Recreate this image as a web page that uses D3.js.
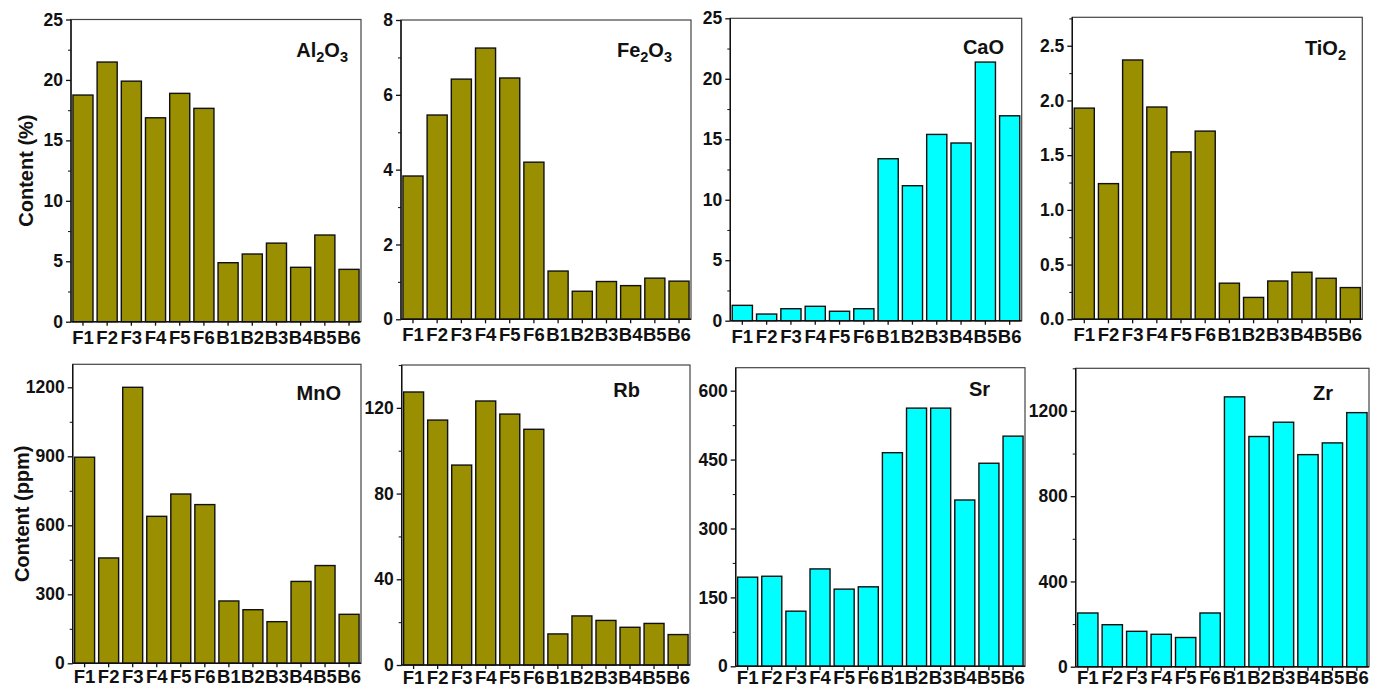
<!DOCTYPE html>
<html>
<head>
<meta charset="utf-8">
<script src="https://cdn.jsdelivr.net/npm/d3@7/dist/d3.min.js"></script>
<style>
  html, body { margin: 0; padding: 0; background: #fff; }
  svg { display: block; font-family: "Liberation Sans", Arial, sans-serif; font-weight: bold; }
</style>
</head>
<body>
<svg id="chart" width="1381" height="691"></svg>
<script>
// Sample identifiers shared by every panel
const samples = ["F1", "F2", "F3", "F4", "F5", "F6", "B1", "B2", "B3", "B4", "B5", "B6"];

// Major oxides (%)
const al2o3 = [18.75, 21.48, 19.9, 16.87, 18.89, 17.65, 4.88, 5.6, 6.5, 4.5, 7.17, 4.33];
const fe2o3 = [3.83, 5.46, 6.42, 7.25, 6.45, 4.2, 1.29, 0.75, 1.01, 0.9, 1.1, 1.02];
const cao   = [1.27, 0.55, 0.99, 1.19, 0.78, 0.99, 13.39, 11.16, 15.4, 14.69, 21.38, 16.94];
const tio2  = [1.93, 1.24, 2.37, 1.94, 1.53, 1.72, 0.33, 0.2, 0.35, 0.43, 0.375, 0.29];

// Minor / trace components (ppm)
const mno = [896, 458, 1200, 639, 736, 690, 271, 233, 181, 356, 425, 213];
const rb  = [127.4, 114.3, 93.3, 123.2, 117.1, 110, 14.5, 22.9, 20.8, 17.6, 19.4, 14.2];
const sr  = [194, 196, 120, 212, 168, 173, 465, 562, 562, 362, 442, 501];
const zr  = [252, 197, 166, 152, 137, 252, 1266, 1080, 1147, 995, 1050, 1192];

// Axis ticks per panel
const ticksAl = [0, 5, 10, 15, 20, 25];
const ticksFe = [0, 2, 4, 6, 8];
const ticksCa = [0, 5, 10, 15, 20, 25];
const ticksTi = [0, 0.5, 1.0, 1.5, 2.0, 2.5];
const ticksMn = [0, 300, 600, 900, 1200];
const ticksRb = [0, 40, 80, 120];
const ticksSr = [0, 150, 300, 450, 600];
const ticksZr = [0, 400, 800, 1200];

const olive = "#998f00";
const cyan = "#00ffff";

// Panel layout: frame box, y-domain, minor tick step, title anchor
const panels = [
  { vals: al2o3, ticks: ticksAl, max: 25,   minor: 2.5,  fmt: d3.format("d"),   fill: olive, title: [["Al",0],["2",1],["O",0],["3",1]],
    x0: 71,     x1: 361,    top: 19.5,  base: 321.7, tx: 348,  ty: 57,  pad: 5, ylabel: "Content (%)", ly: 33 },
  { vals: fe2o3, ticks: ticksFe, max: 8,    minor: 1,    fmt: d3.format("d"),   fill: olive, title: [["Fe",0],["2",1],["O",0],["3",1]],
    x0: 401,    x1: 691,    top: 20,    base: 319.3, tx: 672,  ty: 57,  pad: 5 },
  { vals: cao,   ticks: ticksCa, max: 25,   minor: 2.5,  fmt: d3.format("d"),   fill: cyan,  title: [["CaO",0]],
    x0: 730.3,  x1: 1021.7, top: 18.3,  base: 320.7, tx: 1004, ty: 54,  pad: 5 },
  { vals: tio2,  ticks: ticksTi, max: 2.76, minor: 0.25, fmt: d3.format(".1f"), fill: olive, title: [["TiO",0],["2",1]],
    x0: 1072.3, x1: 1362.3, top: 17.3,  base: 319.3, tx: 1346, ty: 55,  pad: 5 },
  { vals: mno,   ticks: ticksMn, max: 1300, minor: 150,  fmt: d3.format("d"),   fill: olive, title: [["MnO",0]],
    x0: 72.7,   x1: 361,    top: 364.3, base: 663.3, tx: 341,  ty: 400, pad: 3, ylabel: "Content (ppm)", ly: 29 },
  { vals: rb,    ticks: ticksRb, max: 140,  minor: 20,   fmt: d3.format("d"),   fill: olive, title: [["Rb",0]],
    x0: 401.7,  x1: 690,    top: 365,   base: 665,   tx: 640,  ty: 397, pad: 1.5 },
  { vals: sr,    ticks: ticksSr, max: 650,  minor: 75,   fmt: d3.format("d"),   fill: cyan,  title: [["Sr",0]],
    x0: 735.7,  x1: 1025,   top: 367.7, base: 666.3, tx: 990,  ty: 396, pad: 1 },
  { vals: zr,    ticks: ticksZr, max: 1400, minor: 200,  fmt: d3.format("d"),   fill: cyan,  title: [["Zr",0]],
    x0: 1075.7, x1: 1369,   top: 368.3, base: 666.7, tx: 1333, ty: 400, pad: 0.5 }
];

const svg = d3.select("#chart");
const fontFam = "'Liberation Sans', Arial, sans-serif";

panels.forEach(p => {
  const g = svg.append("g");

  const x = d3.scaleBand().domain(samples).range([p.x0, p.x1])
    .paddingInner(0.17).paddingOuter(0.08);
  const y = d3.scaleLinear().domain([0, p.max]).range([p.base, p.top]);

  // Bars
  g.selectAll("rect.bar").data(p.vals).join("rect")
    .attr("class", "bar")
    .attr("x", (d, i) => x(samples[i]))
    .attr("width", x.bandwidth())
    .attr("y", d => y(d))
    .attr("height", d => y(0) - y(d))
    .attr("fill", p.fill)
    .attr("stroke", "#111")
    .attr("stroke-width", 1.4);

  // Frame around the plot area
  g.append("rect")
    .attr("x", p.x0).attr("y", p.top)
    .attr("width", p.x1 - p.x0).attr("height", p.base - p.top)
    .attr("fill", "none").attr("stroke", "#444").attr("stroke-width", 1.2);

  // Minor y ticks
  const minorVals = d3.range(0, p.max + 1e-9, p.minor).filter(v => !p.ticks.some(t => Math.abs(t - v) < 1e-9));
  g.append("g")
    .attr("transform", `translate(${p.x0},0)`)
    .call(d3.axisLeft(y).tickValues(minorVals).tickSize(3).tickFormat(""))
    .call(a => a.select(".domain").remove())
    .call(a => a.selectAll("line").attr("stroke", "#222").attr("stroke-width", 1.1));

  // Major y axis
  g.append("g")
    .attr("transform", `translate(${p.x0},0)`)
    .call(d3.axisLeft(y).tickValues(p.ticks).tickSize(5).tickPadding(3).tickFormat(p.fmt))
    .call(a => a.select(".domain").attr("stroke", "#111").attr("stroke-width", 1.4).attr("d", `M0,${p.base}V${p.top}`))
    .call(a => a.selectAll("line").attr("stroke", "#111").attr("stroke-width", 1.3))
    .call(a => a.selectAll("text").attr("fill", "#111").style("font-size", "17.5px").style("font-weight", "bold")
      .style("font-family", fontFam));

  // x axis
  g.append("g")
    .attr("transform", `translate(0,${p.base})`)
    .call(d3.axisBottom(x).tickSize(4).tickPadding(p.pad))
    .call(a => a.select(".domain").attr("stroke", "#111").attr("stroke-width", 1.4).attr("d", `M${p.x0},0H${p.x1}`))
    .call(a => a.selectAll("line").attr("stroke", "#111").attr("stroke-width", 1.3))
    .call(a => a.selectAll("text").attr("fill", "#111").style("font-size", "18.5px").style("font-weight", "bold")
      .style("font-family", fontFam));

  // Panel title with subscripts
  const t = g.append("text")
    .attr("x", p.tx).attr("y", p.ty)
    .attr("text-anchor", "end")
    .attr("fill", "#111")
    .style("font-size", "20px");
  p.title.forEach(([s, sub]) => {
    t.append("tspan").text(s)
      .attr("baseline-shift", sub ? "-30%" : null)
      .style("font-size", sub ? "14.5px" : null);
  });

  // Shared y-axis titles
  if (p.ylabel) {
    svg.append("text")
      .attr("transform", `translate(${p.ly},${(p.top + p.base) / 2}) rotate(-90)`)
      .attr("text-anchor", "middle")
      .attr("fill", "#111")
      .style("font-size", "20px")
      .text(p.ylabel);
  }
});
</script>
</body>
</html>
